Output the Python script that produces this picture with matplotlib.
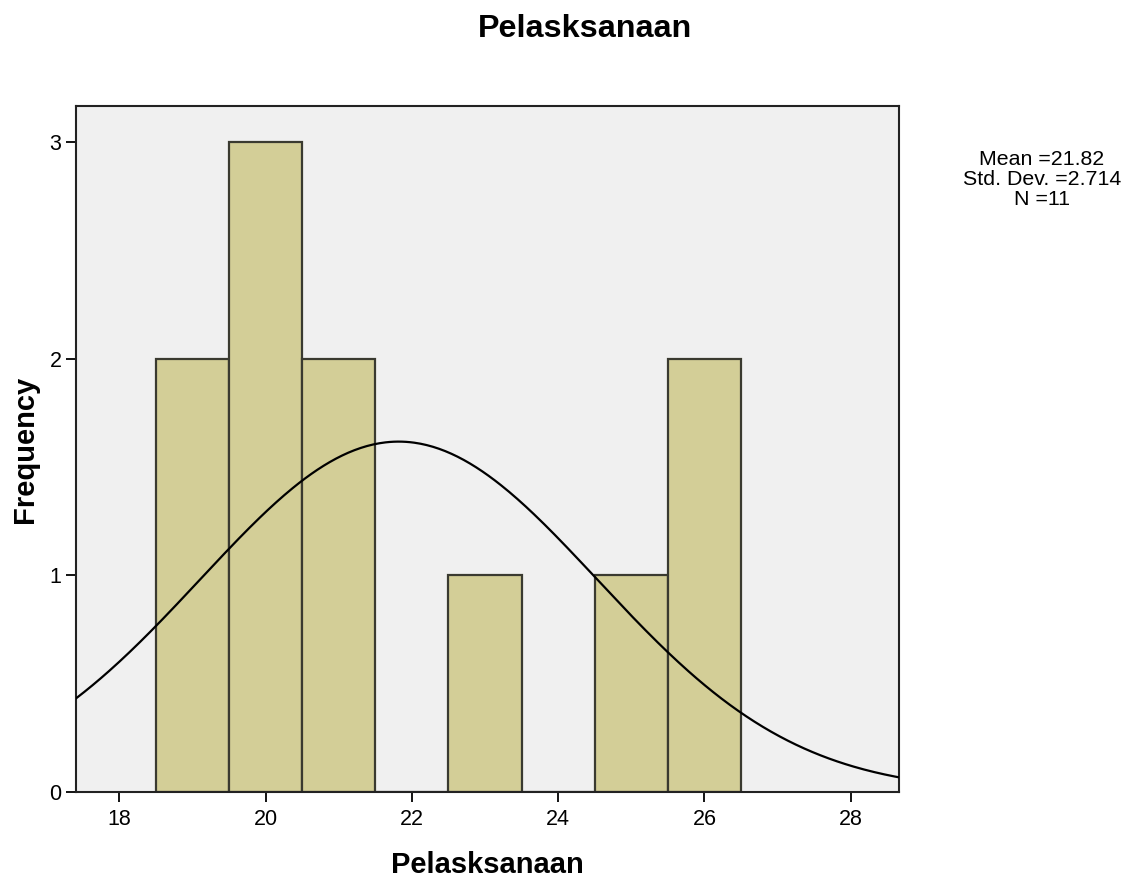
import numpy as np
import matplotlib.pyplot as plt

plt.rcParams['font.family'] = ['Liberation Sans', 'DejaVu Sans']

# histogram bins (left edge) and counts
bin_left = [18.5, 19.5, 20.5, 21.5, 22.5, 23.5, 24.5, 25.5]
counts = [2, 3, 2, 0, 1, 0, 1, 2]
bin_width = 1.0
mean = 21.82
std = 2.714
n = 11

fig = plt.figure(figsize=(11.4, 8.83), dpi=100)
ax = fig.add_axes([0.0667, 0.1031, 0.7219, 0.7769])
ax.set_facecolor('#f0f0f0')

ax.bar(bin_left, counts, width=bin_width, align='edge',
       color='#d3ce97', edgecolor='#3a3a30', linewidth=1.6, zorder=2)

xs = np.linspace(17.41, 28.66, 400)
pdf = n * bin_width / (std * np.sqrt(2 * np.pi)) * np.exp(-0.5 * ((xs - mean) / std) ** 2)
ax.plot(xs, pdf, color='black', linewidth=1.6, zorder=3)

ax.set_xlim(17.41, 28.66)
ax.set_ylim(0, 3.166)
ax.set_xticks([18, 20, 22, 24, 26, 28])
ax.set_yticks([0, 1, 2, 3])
ax.tick_params(axis='both', direction='out', length=7.5, width=1.3,
               labelsize=15.5, colors='black')
ax.tick_params(axis='x', pad=5)
ax.tick_params(axis='y', pad=3)
for s in ax.spines.values():
    s.set_linewidth(1.5)
    s.set_color('#222222')

ax.set_xlabel('Pelasksanaan', fontsize=21, fontweight='bold')
ax.xaxis.label.set_va('center')
ax.xaxis.set_label_coords(0.5, -0.107)
ax.set_ylabel('Frequency', fontsize=21, fontweight='bold')
ax.yaxis.label.set_va('center')
ax.yaxis.set_label_coords(-0.062, 0.5)
fig.text(0.513, 0.967, 'Pelasksanaan', ha='center', va='center',
         fontsize=23.3, fontweight='bold')

fig.text(0.9138, 0.7967, 'Mean =%.2f\nStd. Dev. =%.3f\nN =%d' % (mean, std, n),
         ha='center', va='center', fontsize=15.4, linespacing=1.05)

fig.savefig('out.png', dpi=100)
